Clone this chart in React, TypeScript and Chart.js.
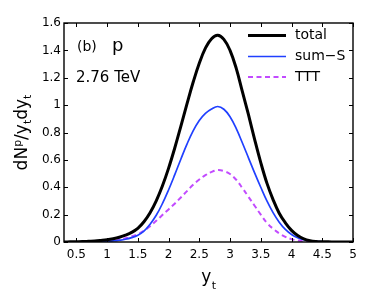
import React, { useEffect, useRef } from "react";
import { Chart, registerables } from "chart.js";

Chart.register(...registerables);

// ---- data ----
const yt = [
  0.3, 0.4, 0.5, 0.6, 0.7, 0.8, 0.9, 1.0, 1.1, 1.2, 1.3, 1.4, 1.5, 1.6, 1.7, 1.8,
  1.9, 2.0, 2.1, 2.2, 2.3, 2.4, 2.5, 2.6, 2.7, 2.8, 2.9, 3.0, 3.1, 3.2, 3.3, 3.4,
  3.5, 3.6, 3.7, 3.8, 3.9, 4.0, 4.1, 4.2, 4.3, 4.4, 4.5, 4.6, 4.7, 4.8, 4.9, 5.0,
];
const total = [
  0.0005, 0.001, 0.002, 0.003, 0.005, 0.007, 0.011, 0.016, 0.024, 0.035, 0.05, 0.07,
  0.1, 0.148, 0.214, 0.301, 0.409, 0.538, 0.685, 0.845, 1.009, 1.167, 1.306, 1.416,
  1.485, 1.51, 1.48, 1.4, 1.27, 1.1, 0.93, 0.75, 0.58, 0.43, 0.31, 0.21, 0.14, 0.085,
  0.047, 0.023, 0.01, 0.004, 0.002, 0.001, 0.0005, 0, 0, 0,
];
const sumS = [
  0, 0, 0.0005, 0.001, 0.001, 0.002, 0.003, 0.005, 0.008, 0.013, 0.02, 0.032, 0.05,
  0.08, 0.13, 0.195, 0.28, 0.38, 0.49, 0.605, 0.715, 0.812, 0.888, 0.94, 0.972, 0.99,
  0.97, 0.915, 0.83, 0.725, 0.615, 0.505, 0.4, 0.3, 0.215, 0.145, 0.092, 0.055, 0.031,
  0.017, 0.008, 0.004, 0.002, 0.001, 0, 0, 0, 0,
];
const ttt = [
  0, 0, 0.0005, 0.001, 0.001, 0.002, 0.003, 0.005, 0.009, 0.016, 0.027, 0.04, 0.058,
  0.082, 0.115, 0.155, 0.197, 0.238, 0.28, 0.325, 0.372, 0.418, 0.456, 0.488, 0.512,
  0.525, 0.518, 0.497, 0.455, 0.395, 0.33, 0.265, 0.2, 0.14, 0.097, 0.063, 0.038, 0.021,
  0.011, 0.005, 0.002, 0.001, 0, 0, 0, 0, 0, 0,
];
const xTicks = [0.5, 1, 1.5, 2, 2.5, 3, 3.5, 4, 4.5, 5];
const yTicks = [0, 0.2, 0.4, 0.6, 0.8, 1, 1.2, 1.4, 1.6];
const seriesLabels = ["total", "sum\u2212S", "TTT"];
const panelLabel = "(b)";
const particleLabel = "p";
const energyLabel = "2.76 TeV";

const FONT = "'DejaVu Sans', sans-serif";

const fmt = (v: number) => String(Number(v.toFixed(2)));

const framePlugin = {
  id: "frameAndText",
  afterDraw(chart: any) {
    const { ctx, chartArea: a, scales } = chart;
    const xs = scales.x;
    const ys = scales.y;
    ctx.save();
    // box
    ctx.strokeStyle = "#000";
    ctx.lineWidth = 1.4;
    ctx.strokeRect(a.left, a.top, a.right - a.left, a.bottom - a.top);
    // inward ticks on all four sides
    const L = 4;
    ctx.lineWidth = 1;
    ctx.beginPath();
    for (const v of xTicks) {
      const px = Math.round(xs.getPixelForValue(v)) + 0.5;
      ctx.moveTo(px, a.bottom);
      ctx.lineTo(px, a.bottom - L);
      ctx.moveTo(px, a.top);
      ctx.lineTo(px, a.top + L);
    }
    for (const v of yTicks) {
      const py = Math.round(ys.getPixelForValue(v)) + 0.5;
      ctx.moveTo(a.left, py);
      ctx.lineTo(a.left + L, py);
      ctx.moveTo(a.right, py);
      ctx.lineTo(a.right - L, py);
    }
    ctx.stroke();

    ctx.fillStyle = "#000";
    ctx.textBaseline = "alphabetic";
    ctx.textAlign = "left";

    // annotations inside the plot
    ctx.font = `14px ${FONT}`;
    ctx.fillText(panelLabel, 77, 51);
    ctx.font = `18px ${FONT}`;
    ctx.fillText(particleLabel, 112, 51);
    ctx.font = `15px ${FONT}`;
    ctx.fillText(energyLabel, 76, 81.5);

    // legend
    const ds = chart.data.datasets;
    const legY = [35.5, 56.5, 77];
    for (let i = 0; i < ds.length; i++) {
      const d = ds[i];
      ctx.beginPath();
      ctx.strokeStyle = d.borderColor;
      ctx.lineWidth = d.borderWidth;
      ctx.setLineDash(d.borderDash || []);
      ctx.moveTo(248, legY[i]);
      ctx.lineTo(286, legY[i]);
      ctx.stroke();
      ctx.setLineDash([]);
      ctx.font = `14px ${FONT}`;
      ctx.textBaseline = "middle";
      ctx.fillStyle = "#000";
      ctx.fillText(d.label, 295, legY[i]);
    }
    ctx.textBaseline = "alphabetic";

    // x-axis title: y_t
    const cx = (a.left + a.right) / 2;
    ctx.font = `17px ${FONT}`;
    const wy = ctx.measureText("y").width;
    ctx.font = `11px ${FONT}`;
    const wt = ctx.measureText("t").width;
    const sx = cx - (wy + wt) / 2;
    ctx.font = `17px ${FONT}`;
    ctx.fillText("y", sx, 281.5);
    ctx.font = `11px ${FONT}`;
    ctx.fillText("t", sx + wy + 0.5, 289);

    // y-axis title: dN^p / y_t dy_t (rotated)
    const parts: [string, number, number][] = [
      ["dN", 17, 0],
      ["p", 11, -6.5],
      ["/y", 17, 0],
      ["t", 11, 4],
      ["dy", 17, 0],
      ["t", 11, 4],
    ];
    let tw = 0;
    const widths = parts.map(([s, f]) => {
      ctx.font = `${f}px ${FONT}`;
      const w = ctx.measureText(s).width;
      tw += w;
      return w;
    });
    const cy = (a.top + a.bottom) / 2;
    ctx.translate(27, cy);
    ctx.rotate(-Math.PI / 2);
    let px = -tw / 2;
    parts.forEach(([s, f, off], i) => {
      ctx.font = `${f}px ${FONT}`;
      ctx.fillText(s, px, off);
      px += widths[i];
    });
    ctx.restore();
  },
};

export default function App() {
  const ref = useRef<HTMLCanvasElement>(null);
  useEffect(() => {
    document.body.style.margin = "0";
    const mk = (arr: number[]) => yt.map((x, i) => ({ x, y: arr[i] }));
    const common = { pointRadius: 0, tension: 0.4, fill: false };
    const chart = new Chart(ref.current as HTMLCanvasElement, {
      type: "line",
      data: {
        datasets: [
          {
            label: seriesLabels[0],
            data: mk(total),
            borderColor: "#000000",
            borderWidth: 3,
            ...common,
          },
          {
            label: seriesLabels[1],
            data: mk(sumS),
            borderColor: "#2040ff",
            borderWidth: 1.7,
            ...common,
          },
          {
            label: seriesLabels[2],
            data: mk(ttt),
            borderColor: "#c24bff",
            borderWidth: 2,
            borderDash: [5, 3.5],
            ...common,
          },
        ],
      },
      options: {
        animation: false,
        responsive: false,
        devicePixelRatio: 1,
        layout: { padding: { left: 0, right: 37, top: 23, bottom: 0 } },
        plugins: {
          legend: { display: false },
          tooltip: { enabled: false },
        },
        scales: {
          x: {
            type: "linear",
            min: 0.3,
            max: 5,
            afterBuildTicks: (s: any) => {
              s.ticks = xTicks.map((v) => ({ value: v }));
            },
            afterFit: (s: any) => {
              s.height = 52;
            },
            grid: { display: false, drawTicks: false },
            border: { display: false },
            ticks: {
              padding: 6,
              color: "#000",
              font: { family: FONT, size: 12 },
              maxRotation: 0,
              autoSkip: false,
              callback: (v: any) => fmt(Number(v)),
            },
          },
          y: {
            type: "linear",
            min: 0,
            max: 1.6,
            afterBuildTicks: (s: any) => {
              s.ticks = yTicks.map((v) => ({ value: v }));
            },
            afterFit: (s: any) => {
              s.width = 64;
            },
            grid: { display: false, drawTicks: false },
            border: { display: false },
            ticks: {
              padding: 3,
              color: "#000",
              font: { family: FONT, size: 12 },
              autoSkip: false,
              callback: (v: any) => fmt(Number(v)),
            },
          },
        },
      },
      plugins: [framePlugin],
    } as any);
    return () => chart.destroy();
  }, []);
  return (
    <div style={{ width: 390, height: 294, background: "#fff" }}>
      <canvas
        ref={ref}
        width={390}
        height={294}
        style={{ display: "block", width: 390, height: 294 }}
      />
    </div>
  );
}
